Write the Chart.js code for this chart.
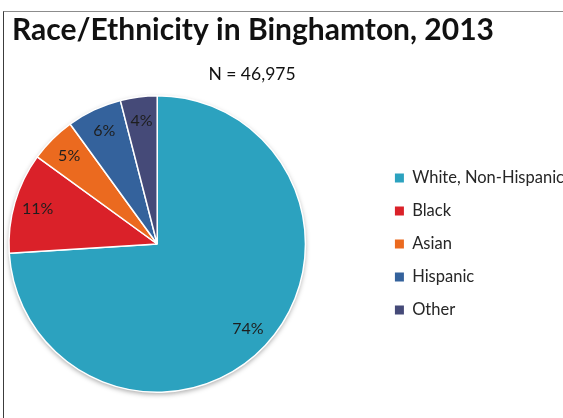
<!DOCTYPE html>
<html>
<head>
<meta charset="utf-8">
<script src="https://cdn.jsdelivr.net/npm/chart.js@4.4.1/dist/chart.umd.min.js"></script>
<style>
  html, body { margin: 0; padding: 0; background: #fff; }
  body { width: 563px; height: 418px; overflow: hidden; position: relative; }
  #frame { position: absolute; left: 3px; top: 11px; width: 620px; height: 430px;
           border-left: 1px solid #3c3c3c; border-top: 1.5px solid #8c8c8c; }
  #chart { position: absolute; top: 0; }
</style>
</head>
<body>
<div id="frame"></div>
<canvas id="chart"></canvas>
<script>
const categories = ['White, Non-Hispanic', 'Black', 'Asian', 'Hispanic', 'Other'];
const shares = [74, 11, 5, 6, 4];
const sliceColors = ['#2ca2bf', '#da2129', '#eb6a1f', '#34629c', '#454a78'];
const chartTitle = 'Race/Ethnicity in Binghamton, 2013';
const sampleNote = 'N = 46,975';

const FONT = 'Lato, "Open Sans", sans-serif';
const canvasLeft = -64;   // pie is left of its plot-area centre, so the canvas starts off the page
const legendFontSize = 16.5;
const legendBox = 9;
const legendPad = 16.5;

// size the canvas so the legend column starts at x = 395 on the page
const measure = document.createElement('canvas').getContext('2d');
measure.font = legendFontSize + 'px ' + FONT;
const widest = Math.max(...categories.map(c => measure.measureText(c).width));
const canvasWidth = Math.round(395 - canvasLeft + legendBox + legendFontSize / 2 + widest + 10);

const canvas = document.getElementById('chart');
canvas.width = canvasWidth;
canvas.height = 418;
canvas.style.left = canvasLeft + 'px';

// soft drop shadow under the whole pie
const pieShadow = {
    id: 'pieShadow',
    beforeDatasetsDraw(chart) {
        const arc = chart.getDatasetMeta(0).data[0];
        const ctx = chart.ctx;
        ctx.save();
        ctx.shadowColor = 'rgba(0, 0, 0, 0.35)';
        ctx.shadowBlur = 5;
        ctx.shadowOffsetY = 2;
        ctx.fillStyle = '#fff';
        ctx.beginPath();
        ctx.arc(arc.x, arc.y, arc.outerRadius, 0, Math.PI * 2);
        ctx.fill();
        ctx.restore();
    }
};

// percentage inside each slice
const sliceLabels = {
    id: 'sliceLabels',
    afterDatasetsDraw(chart) {
        const ctx = chart.ctx;
        const values = chart.data.datasets[0].data;
        ctx.save();
        ctx.font = '16px ' + FONT;
        ctx.fillStyle = '#1e1e1e';
        ctx.textAlign = 'center';
        ctx.textBaseline = 'middle';
        chart.getDatasetMeta(0).data.forEach((arc, i) => {
            const mid = (arc.startAngle + arc.endAngle) / 2;
            const r = arc.outerRadius * 0.84;
            ctx.fillText(values[i] + '%', arc.x + Math.cos(mid) * r, arc.y + Math.sin(mid) * r);
        });
        ctx.restore();
    }
};

// title and sample size
const headings = {
    id: 'headings',
    afterDraw(chart) {
        const ctx = chart.ctx;
        ctx.save();
        ctx.fillStyle = '#111';
        ctx.textBaseline = 'alphabetic';
        ctx.font = 'bold 30px ' + FONT;
        ctx.textAlign = 'left';
        ctx.fillText(chartTitle, 12 - canvasLeft, 40);
        ctx.font = '17.5px ' + FONT;
        ctx.textAlign = 'center';
        ctx.fillText(sampleNote, 252 - canvasLeft, 80);
        ctx.restore();
    }
};

new Chart(canvas, {
    type: 'pie',
    data: {
        labels: categories,
        datasets: [{
            data: shares,
            backgroundColor: sliceColors,
            borderColor: '#fff',
            borderWidth: 1.5,
            hoverBorderWidth: 1.5,
            hoverOffset: 0
        }]
    },
    options: {
        responsive: false,
        animation: false,
        events: [],
        layout: { padding: { top: 95, bottom: 25, left: 0, right: 0 } },
        plugins: {
            legend: {
                position: 'right',
                labels: {
                    font: { family: FONT, size: legendFontSize },
                    color: '#262626',
                    boxWidth: legendBox,
                    boxHeight: legendBox,
                    padding: legendPad,
                    generateLabels: chart => Chart.overrides.pie.plugins.legend.labels
                        .generateLabels(chart).map(item => ({ ...item, lineWidth: 0 }))
                }
            },
            tooltip: { enabled: false }
        }
    },
    plugins: [pieShadow, sliceLabels, headings]
});
</script>
</body>
</html>
